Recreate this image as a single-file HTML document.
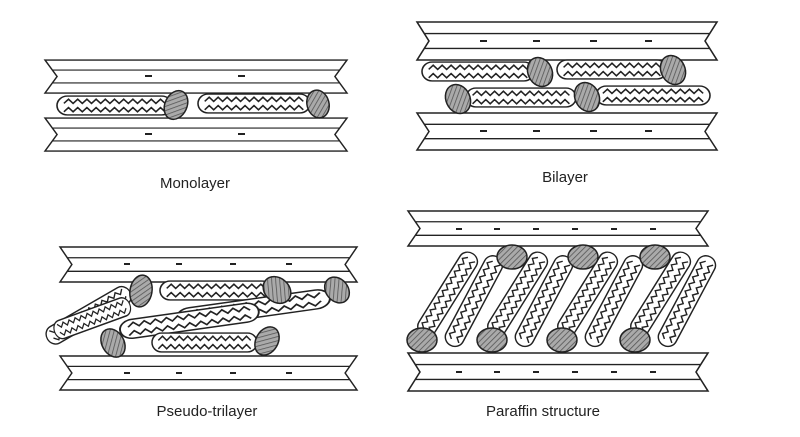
<!DOCTYPE html>
<html><head><meta charset="utf-8"><style>
html,body{margin:0;padding:0;background:#fff;}
svg{display:block}
text{font-family:"Liberation Sans",sans-serif;font-size:15px;fill:#222}
</style></head><body>
<svg width="800" height="437" viewBox="0 0 800 437" xmlns="http://www.w3.org/2000/svg">
<defs>
<pattern id="h" width="4" height="4" patternUnits="userSpaceOnUse" patternTransform="rotate(45)">
<rect width="4" height="4" fill="#aaa"/><line x1="0" y1="0" x2="0" y2="4" stroke="#555" stroke-width="1.6"/></pattern>
<symbol id="plate" viewBox="0 0 300 36" preserveAspectRatio="none" overflow="visible">
<polygon points="0,0 300,0 288,18 300,36 0,36 12,18" fill="#fff" stroke="#222" stroke-width="1.5"/>
<line x1="7" y1="11" x2="293" y2="11" stroke="#222" stroke-width="1.3"/>
<line x1="7" y1="25" x2="293" y2="25" stroke="#222" stroke-width="1.3"/>
</symbol>
<symbol id="chain" viewBox="0 -10 100 20" preserveAspectRatio="none" overflow="visible">
<rect x="0" y="-9" width="100" height="18" rx="9" fill="#fff" stroke="#222" stroke-width="1.4"/>
<path d="M6 -2 l4 -4 l4 4 l4 -4 l4 4 l4 -4 l4 4 l4 -4 l4 4 l4 -4 l4 4 l4 -4 l4 4 l4 -4 l4 4 l4 -4 l4 4 l4 -4 l4 4 l4 -4 l4 4 l4 -4 l4 4" fill="none" stroke="#222" stroke-width="1.4"/>
<path d="M6 6 l4 -4 l4 4 l4 -4 l4 4 l4 -4 l4 4 l4 -4 l4 4 l4 -4 l4 4 l4 -4 l4 4 l4 -4 l4 4 l4 -4 l4 4 l4 -4 l4 4 l4 -4 l4 4 l4 -4 l4 4" fill="none" stroke="#222" stroke-width="1.4"/>
</symbol>
</defs>
<g stroke="#222" stroke-width="2">
<use href="#plate" x="45" y="60" width="302" height="33"/>
<use href="#plate" x="45" y="118" width="302" height="33"/>
<line x1="145" y1="76" x2="152" y2="76"/><line x1="238" y1="76" x2="245" y2="76"/>
<line x1="145" y1="134" x2="152" y2="134"/><line x1="238" y1="134" x2="245" y2="134"/>
<use href="#plate" x="417" y="22" width="300" height="38"/>
<use href="#plate" x="417" y="113" width="300" height="37"/>
<g><line x1="480" y1="41" x2="487" y2="41"/><line x1="533" y1="41" x2="540" y2="41"/><line x1="590" y1="41" x2="597" y2="41"/><line x1="645" y1="41" x2="652" y2="41"/>
<line x1="480" y1="131" x2="487" y2="131"/><line x1="533" y1="131" x2="540" y2="131"/><line x1="590" y1="131" x2="597" y2="131"/><line x1="645" y1="131" x2="652" y2="131"/></g>
<use href="#plate" x="60" y="247" width="297" height="35"/>
<use href="#plate" x="60" y="356" width="297" height="34"/>
<line x1="124" y1="264" x2="130" y2="264"/><line x1="176" y1="264" x2="182" y2="264"/><line x1="230" y1="264" x2="236" y2="264"/><line x1="286" y1="264" x2="292" y2="264"/>
<line x1="124" y1="373" x2="130" y2="373"/><line x1="176" y1="373" x2="182" y2="373"/><line x1="230" y1="373" x2="236" y2="373"/><line x1="286" y1="373" x2="292" y2="373"/>
<use href="#plate" x="408" y="211" width="300" height="35"/>
<use href="#plate" x="408" y="353" width="300" height="38"/>
<g><line x1="456" y1="229" x2="462" y2="229"/><line x1="494" y1="229" x2="500" y2="229"/><line x1="533" y1="229" x2="539" y2="229"/><line x1="572" y1="229" x2="578" y2="229"/><line x1="611" y1="229" x2="617" y2="229"/><line x1="650" y1="229" x2="656" y2="229"/>
<line x1="456" y1="372" x2="462" y2="372"/><line x1="494" y1="372" x2="500" y2="372"/><line x1="533" y1="372" x2="539" y2="372"/><line x1="572" y1="372" x2="578" y2="372"/><line x1="611" y1="372" x2="617" y2="372"/><line x1="650" y1="372" x2="656" y2="372"/></g>
</g>
<g>
<use href="#chain" x="57" y="95" width="115" height="21"/>
<use href="#chain" x="198" y="93" width="112" height="21"/>
<use href="#chain" x="422" y="61" width="112" height="21"/>
<use href="#chain" x="557" y="59" width="110" height="21"/>
<use href="#chain" x="466" y="87" width="110" height="21"/>
<use href="#chain" x="596" y="85" width="114" height="21"/>
<use href="#chain" x="0" y="-10" width="100" height="21" transform="translate(130,292) rotate(150) scale(0.95,1)"/>
<use href="#chain" x="0" y="-10" width="100" height="21" transform="translate(130,305) rotate(160) scale(0.8,1)"/>
<use href="#chain" x="160" y="280" width="112" height="21"/>
<use href="#chain" x="0" y="-10" width="100" height="21" transform="translate(330,298) rotate(172) scale(1.55,1)"/>
<use href="#chain" x="0" y="-10" width="100" height="21" transform="translate(120,330) rotate(-8) scale(1.4,1)"/>
<use href="#chain" x="152" y="332" width="105" height="21"/>
<g id="pc">
<use href="#chain" x="0" y="-10" width="100" height="21" transform="translate(422,334) rotate(-58) scale(0.95,1)"/>
<use href="#chain" x="0" y="-10" width="100" height="21" transform="translate(450,345) rotate(-62) scale(1.0,1)"/>
</g>
<use href="#pc" x="70"/>
<use href="#pc" x="140"/>
<use href="#pc" x="213"/>
</g>
<g fill="url(#h)" stroke="#222" stroke-width="1.5">
<ellipse cx="176" cy="105" rx="11" ry="15" transform="rotate(25 176 105)"/>
<ellipse cx="318" cy="104" rx="11" ry="14" transform="rotate(-15 318 104)"/>
<ellipse cx="540" cy="72" rx="12" ry="15" transform="rotate(-25 540 72)"/>
<ellipse cx="673" cy="70" rx="12" ry="15" transform="rotate(-25 673 70)"/>
<ellipse cx="458" cy="99" rx="12" ry="15" transform="rotate(-25 458 99)"/>
<ellipse cx="587" cy="97" rx="12" ry="15" transform="rotate(-25 587 97)"/>
<ellipse cx="141" cy="291" rx="11" ry="16" transform="rotate(10 141 291)"/>
<ellipse cx="277" cy="290" rx="12" ry="15" transform="rotate(-50 277 290)"/>
<ellipse cx="337" cy="290" rx="11" ry="14" transform="rotate(-40 337 290)"/>
<ellipse cx="113" cy="343" rx="11" ry="15" transform="rotate(-30 113 343)"/>
<ellipse cx="267" cy="341" rx="11" ry="15" transform="rotate(30 267 341)"/>
<ellipse cx="512" cy="257" rx="15" ry="12"/>
<ellipse cx="583" cy="257" rx="15" ry="12"/>
<ellipse cx="655" cy="257" rx="15" ry="12"/>
<ellipse cx="422" cy="340" rx="15" ry="12"/>
<ellipse cx="492" cy="340" rx="15" ry="12"/>
<ellipse cx="562" cy="340" rx="15" ry="12"/>
<ellipse cx="635" cy="340" rx="15" ry="12"/>
</g>
<text x="195" y="188" text-anchor="middle">Monolayer</text>
<text x="565" y="182" text-anchor="middle">Bilayer</text>
<text x="207" y="416" text-anchor="middle">Pseudo-trilayer</text>
<text x="543" y="416" text-anchor="middle">Paraffin structure</text>
</svg>
</body></html>
